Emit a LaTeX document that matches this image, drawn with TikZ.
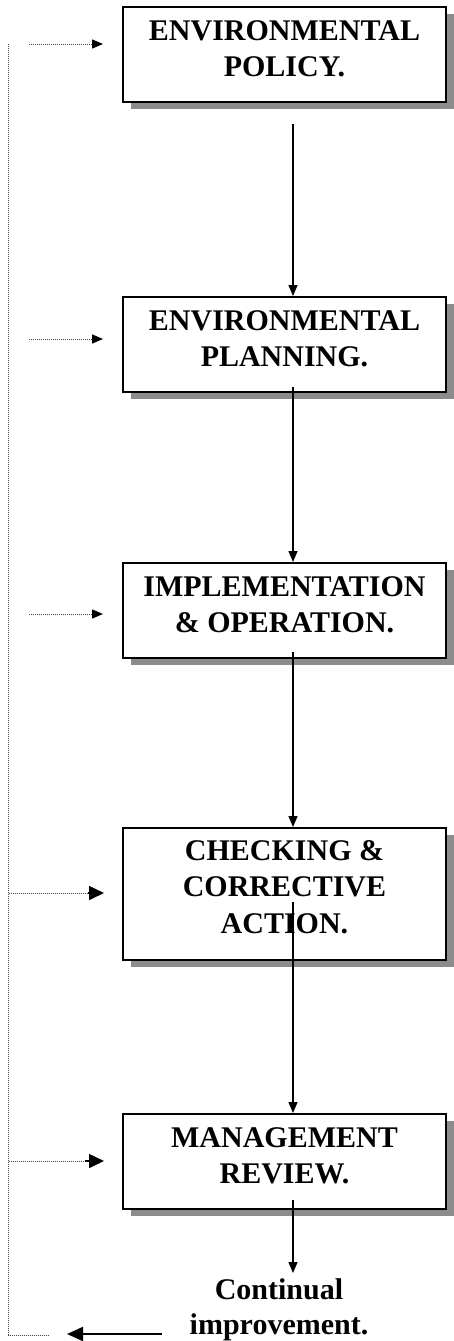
\documentclass[tikz,border=0pt]{standalone}
\usepackage{fontspec}
\setmainfont{Liberation Serif}
\usetikzlibrary{arrows.meta,shadows,calc}
\definecolor{shadowgray}{RGB}{140,140,140}
\definecolor{dotgray}{RGB}{70,70,70}
\begin{document}
\begin{tikzpicture}[x=1pt,y={(0pt,-1pt)},
  box/.style={draw, line width=2pt, fill=white, minimum width=323pt, inner sep=0pt,
    general shadow={fill=shadowgray, shadow xshift=8pt, shadow yshift=-7pt}},
  boxtext/.style={anchor=north, align=center, inner sep=0pt,
    font=\bfseries\fontsize{30}{36.6}\selectfont},
  conn/.style={line width=1.4pt, -{Triangle[length=11pt,width=9pt]}},
  fb/.style={dotgray, line width=0.9pt, dash pattern=on 1pt off 1pt},
  fbhead/.style={line width=1.4pt, -{Triangle[length=11pt,width=9pt]}},
  bighead/.style={line width=1.6pt, -{Triangle[length=15pt,width=14pt]}}
]
\useasboundingbox[fill=white] (0,0) rectangle (454,1341);

% boxes
\node[box, minimum height=95pt]  (b1) at (284.5,54.5) {};
\node[box, minimum height=95pt]  (b2) at (284.5,344.5) {};
\node[box, minimum height=95pt]  (b3) at (284.5,610.5) {};
\node[box, minimum height=132pt] (b4) at (284.5,894) {};
\node[box, minimum height=95pt]  (b5) at (284.5,1161.5) {};

% texts
\node[boxtext] (t1) at ([yshift=-14pt]b1.north) {ENVIRONMENTAL\\POLICY.};
\node[boxtext] (t2) at ([yshift=-14pt]b2.north) {ENVIRONMENTAL\\PLANNING.};
\node[boxtext] (t3) at ([yshift=-14pt]b3.north) {IMPLEMENTATION\\\& OPERATION.};
\node[boxtext] (t4) at ([yshift=-13pt]b4.north) {CHECKING \&\\CORRECTIVE\\ACTION.};
\node[boxtext] (t5) at ([yshift=-14pt]b5.north) {MANAGEMENT\\REVIEW.};
\node[boxtext, font=\bfseries\fontsize{30}{35}\selectfont] (ct) at (279,1278) {Continual\\improvement.};

% vertical connectors
\draw[conn] ([xshift=8.5pt,yshift=-21pt]b1.south) -- ([xshift=8.5pt]b2.north);
\draw[conn] ([xshift=8.5pt,yshift=6pt]b2.south) -- ([xshift=8.5pt]b3.north);
\draw[conn] ([xshift=8.5pt,yshift=7pt]b3.south) -- ([xshift=8.5pt]b4.north);
\draw[conn] ([xshift=8.5pt,yshift=59pt]b4.south) -- ([xshift=8.5pt]b5.north);
\draw[conn] ([xshift=8.5pt,yshift=10pt]b5.south) -- ([xshift=14pt,yshift=5pt]ct.north);

% feedback loop
\coordinate (top) at (8.5,44);
\coordinate (bot) at (8.5,1335);
\coordinate (botend) at (48,1335);
\draw[fb] (top) -- (bot) -- (botend);

\coordinate (s1) at (29,44);   \coordinate (h1) at (93,44);   \coordinate (e1) at (103,44);
\coordinate (s2) at (29,339);  \coordinate (h2) at (93,339);  \coordinate (e2) at (103,339);
\coordinate (s3) at (29,614);  \coordinate (h3) at (93,614);  \coordinate (e3) at (103,614);
\coordinate (s4) at (8.5,893); \coordinate (h4) at (89,893);  \coordinate (e4) at (104,893);
\coordinate (s5) at (8.5,1161);\coordinate (h5) at (85,1161); \coordinate (e5) at (104,1161);

\draw[fb] (s1) -- (h1); \draw[fbhead] ([xshift=-1pt]h1) -- (e1);
\draw[fb] (s2) -- (h2); \draw[fbhead] ([xshift=-1pt]h2) -- (e2);
\draw[fb] (s3) -- (h3); \draw[fbhead] ([xshift=-1pt]h3) -- (e3);
\draw[fb] (s4) -- (h4); \draw[bighead] ([xshift=-1pt]h4) -- (e4);
\draw[fb] (s5) -- (h5); \draw[bighead] (h5) -- (e5);

% continual improvement arrow
\coordinate (ciS) at (162,1334);
\coordinate (ciE) at (67,1334);
\draw[line width=2pt, -{Triangle[length=16pt,width=14pt]}] (ciS) -- (ciE);
\end{tikzpicture}
\end{document}
